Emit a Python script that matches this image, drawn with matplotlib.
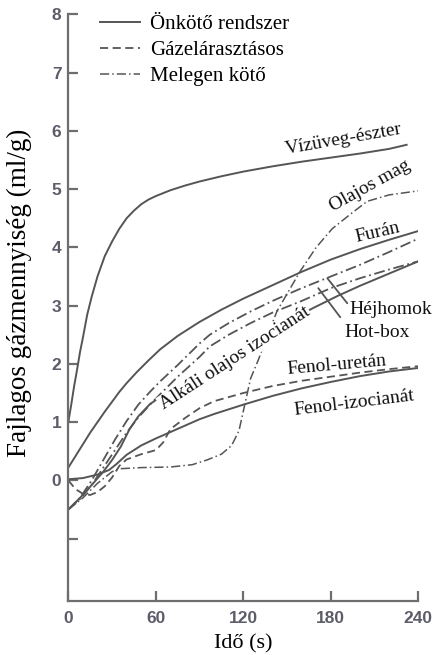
import numpy as np
import matplotlib
matplotlib.use("Agg")
import matplotlib.pyplot as plt

# --- data (time in s, gas in ml/g) ---
vizuveg_t = [0, 2, 4, 6, 8, 10, 13, 16, 20, 25, 30, 35, 40, 45, 50, 55, 60, 70, 80, 90,
             105, 120, 140, 160, 180, 200, 220, 232]
vizuveg_v = [1.0, 1.3, 1.62, 1.9, 2.2, 2.45, 2.85, 3.15, 3.5, 3.85, 4.1, 4.32, 4.5, 4.63,
             4.74, 4.82, 4.88, 4.98, 5.06, 5.13, 5.22, 5.3, 5.39, 5.47, 5.54, 5.61, 5.69, 5.76]

furan_t = [0, 5, 10, 15, 20, 25, 30, 35, 40, 47, 55, 63, 75, 90, 105, 120, 140, 160, 180,
           200, 220, 240]
furan_v = [0.22, 0.42, 0.62, 0.82, 1.0, 1.18, 1.35, 1.52, 1.67, 1.86, 2.06, 2.25, 2.48,
           2.72, 2.93, 3.12, 3.35, 3.58, 3.79, 3.97, 4.13, 4.28]

alkali_t = [0, 8, 16, 24, 30, 36, 42, 48, 56, 70, 90, 110, 130, 150, 168, 185, 200, 220, 240]
alkali_v = [-0.5, -0.3, -0.08, 0.15, 0.35, 0.58, 0.88, 1.1, 1.31, 1.55, 1.85, 2.15, 2.45,
            2.72, 2.96, 3.17, 3.34, 3.55, 3.76]

fenoliz_t = [0, 10, 20, 28, 33, 40, 50, 60, 70, 80, 90, 100, 120, 140, 160, 180, 200, 220, 240]
fenoliz_v = [0.02, 0.04, 0.1, 0.18, 0.28, 0.44, 0.6, 0.72, 0.83, 0.94, 1.05, 1.14, 1.3, 1.45,
             1.58, 1.69, 1.79, 1.87, 1.93]

fenolur_t = [0, 5, 10, 15, 20, 25, 30, 35, 40, 50, 60, 65, 70, 80, 90, 100, 120, 140, 160,
             180, 200, 220, 240]
fenolur_v = [0.0, -0.15, -0.23, -0.25, -0.2, -0.1, 0.05, 0.25, 0.36, 0.45, 0.52, 0.65, 0.88,
             1.07, 1.24, 1.36, 1.5, 1.62, 1.71, 1.78, 1.85, 1.91, 1.96]

olajos_t = [0, 10, 20, 30, 35, 50, 70, 85, 95, 105, 112, 117, 121, 125, 130, 143, 159, 170,
            181, 195, 205, 220, 240]
olajos_v = [-0.5, -0.3, -0.05, 0.15, 0.2, 0.22, 0.23, 0.27, 0.35, 0.45, 0.6, 0.85, 1.3, 1.75,
            2.05, 2.9, 3.59, 4.0, 4.32, 4.6, 4.79, 4.9, 4.97]

hejhomok_t = [0, 8, 16, 24, 32, 40, 48, 56, 63, 75, 90, 97, 110, 125, 140, 160, 180, 200, 220, 240]
hejhomok_v = [-0.5, -0.3, 0.0, 0.35, 0.7, 1.02, 1.3, 1.52, 1.7, 1.98, 2.35, 2.5, 2.7, 2.9,
              3.08, 3.3, 3.5, 3.7, 3.92, 4.15]

hotbox_t = [0, 8, 16, 24, 32, 40, 48, 56, 63, 75, 90, 97, 110, 125, 140, 160, 180, 200, 220, 240]
hotbox_v = [-0.5, -0.32, -0.08, 0.22, 0.52, 0.82, 1.08, 1.3, 1.48, 1.78, 2.12, 2.3, 2.5, 2.7,
            2.88, 3.08, 3.3, 3.47, 3.62, 3.76]

xticks = [0, 60, 120, 180, 240]
yticks = [-1, 0, 1, 2, 3, 4, 5, 6, 7, 8]
ytick_labels = ["", "0", "1", "2", "3", "4", "5", "6", "7", "8"]

LC = "#555555"
AX = "#6e6e6e"
SERIF = "Liberation Serif"
solid = "-"
dashed = (0, (4.5, 2.5))
dashdot = (0, (6, 2, 1, 2))

fig = plt.figure(figsize=(4.36, 6.55), dpi=100)
ax = fig.add_axes([0.1567, 0.0824, 0.8027, 0.8958])

ax.plot(vizuveg_t, vizuveg_v, color=LC, lw=1.4, ls=solid, label="Önkötő rendszer")
ax.plot(furan_t, furan_v, color=LC, lw=1.4, ls=solid)
ax.plot(alkali_t, alkali_v, color=LC, lw=1.4, ls=solid)
ax.plot(fenoliz_t, fenoliz_v, color=LC, lw=1.4, ls=solid)
ax.plot(fenolur_t, fenolur_v, color=LC, lw=1.3, ls=dashed, label="Gázelárasztásos")
ax.plot(olajos_t, olajos_v, color=LC, lw=1.1, ls=dashdot, label="Melegen kötő")
ax.plot(hejhomok_t, hejhomok_v, color=LC, lw=1.3, ls=dashdot)
ax.plot(hotbox_t, hotbox_v, color=LC, lw=1.3, ls=dashdot)

# curve labels
lab = dict(family=SERIF, fontsize=14, color="#111111", ha="center", va="center")
ax.text(189, 5.86, "Vízüveg-észter", rotation=10, **lab)
ax.text(207, 5.05, "Olajos mag", rotation=29, **lab)
ax.text(212, 4.26, "Furán", rotation=13, **lab)
ax.text(221, 2.94, "Héjhomok", rotation=0, **lab)
ax.text(212, 2.53, "Hot-box", rotation=0, **lab)
ax.text(114, 2.1, "Alkáli olajos izocianát", rotation=33,
        bbox=dict(facecolor="white", edgecolor="none", pad=0.5), **lab)
ax.text(184, 1.98, "Fenol-uretán", rotation=5, **lab)
ax.text(196, 1.32, "Fenol-izocianát", rotation=7, **lab)

# leader lines for Héjhomok and Hot-box
ax.annotate("", xy=(177.6, 3.47), xytext=(191.3, 3.04),
            arrowprops=dict(arrowstyle="-", color=LC, lw=1.3, shrinkA=0, shrinkB=0))
ax.annotate("", xy=(171.4, 3.30), xytext=(186.5, 2.80),
            arrowprops=dict(arrowstyle="-", color=LC, lw=1.3, shrinkA=0, shrinkB=0))

ax.set_xlim(0, 240)
ax.set_ylim(-2.07, 8)
ax.spines["top"].set_visible(False)
ax.spines["right"].set_visible(False)
for s in ["left", "bottom"]:
    ax.spines[s].set_color(AX)
    ax.spines[s].set_linewidth(1.6)

ax.set_xticks(xticks)
ax.set_yticks(yticks)
ax.set_yticklabels(ytick_labels)
ax.tick_params(direction="in", length=7, width=1.6, color=AX, labelcolor="#5d5d6a",
               labelsize=12.5)
ax.tick_params(axis="y", pad=5)
ax.tick_params(axis="x", pad=7)
for t in ax.get_xticklabels() + ax.get_yticklabels():
    t.set_family("Liberation Sans")
    t.set_fontweight("bold")

ax.set_xlabel("Idő (s)", family=SERIF, fontsize=16)
ax.set_ylabel("Fajlagos gázmennyiség (ml/g)", family=SERIF, fontsize=19.5)
ax.xaxis.set_label_coords(0.5, -0.056)
ax.yaxis.set_label_coords(-0.103, 0.526)

leg = ax.legend(loc="upper left", bbox_to_anchor=(0.068, 1.014), frameon=False,
                prop=dict(family=SERIF, size=15), handlelength=1.9, handletextpad=0.5,
                labelspacing=0.32, borderaxespad=0)

fig.savefig("out.png", dpi=100)
